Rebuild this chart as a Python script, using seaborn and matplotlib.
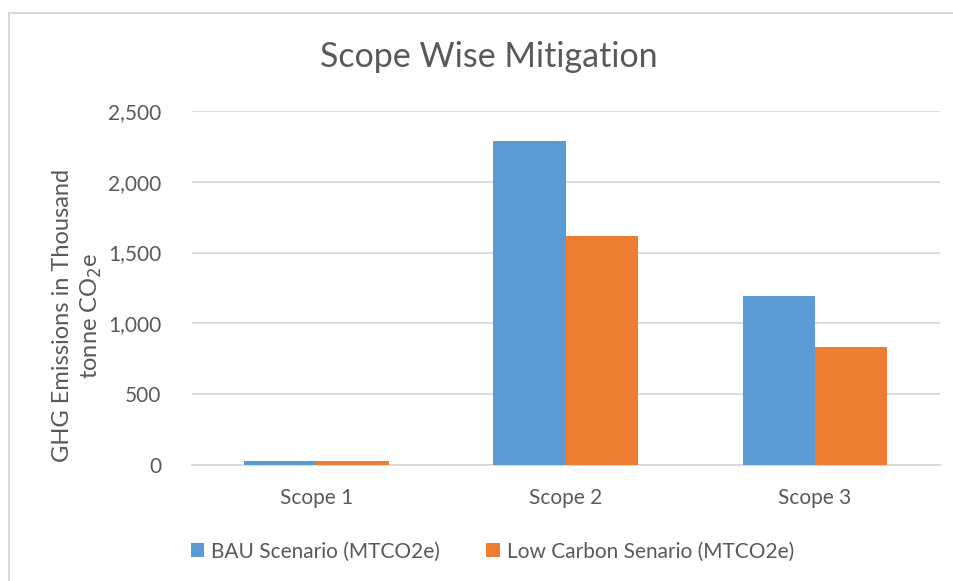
import matplotlib
matplotlib.use('Agg')
import matplotlib.pyplot as plt
import seaborn as sns
import pandas as pd
from matplotlib.patches import Rectangle

# dados do grafico
escopos = ['Scope 1', 'Scope 2', 'Scope 3']
bau = [24, 2290, 1190]
baixo_carbono = [24, 1619, 833]
series = ['BAU Scenario (MTCO2e)', 'Low Carbon Senario (MTCO2e)']
cores = ['#5B9BD5', '#ED7D31']
ticks_y = [0, 500, 1000, 1500, 2000, 2500]

df = pd.DataFrame({
    'Escopo': escopos * 2,
    'Valor': bau + baixo_carbono,
    'Serie': [series[0]] * 3 + [series[1]] * 3,
})

sns.set_theme(style='white')
plt.rcParams['font.family'] = ['Lato', 'DejaVu Sans']

fig = plt.figure(figsize=(9.54, 5.81), dpi=100)
ax = fig.add_axes([0.201, 0.2, 0.784, 0.609])

sns.barplot(data=df, x='Escopo', y='Valor', hue='Serie', palette=cores,
            width=0.58, saturation=1, linewidth=0, ax=ax, legend=True)

ax.set_ylim(0, 2500)
ax.set_xlim(-0.5, 2.5)
ax.set_yticks(ticks_y)
ax.set_yticklabels([f'{v:,}' for v in ticks_y])
ax.grid(axis='y', color='#D9D9D9', linewidth=1.3)
ax.set_axisbelow(True)
for lado in ['top', 'right', 'left']:
    ax.spines[lado].set_visible(False)
ax.spines['bottom'].set_color('#D9D9D9')
ax.spines['bottom'].set_linewidth(1.3)
ax.spines['bottom'].set_zorder(0.5)
ax.tick_params(axis='both', colors='#595959', labelsize=15, length=0)
ax.tick_params(axis='y', pad=22)
ax.tick_params(axis='x', pad=17)
ax.set_xlabel('')
ax.set_ylabel('GHG Emissions in Thousand\ntonne CO$_2$e', fontsize=17,
              color='#595959', va='center', linespacing=1.35)
ax.yaxis.set_label_coords(-0.152, 0.421)

fig.text(0.512, 0.902, 'Scope Wise Mitigation', ha='center', va='center',
         fontsize=24.5, color='#595959')

ax.legend(loc='center', bbox_to_anchor=(0.402, -0.245), ncol=2, frameon=False,
          fontsize=15, labelcolor='#595959', handlelength=0.65, handleheight=0.65,
          handletextpad=0.35, columnspacing=2.2)

# borda da area do grafico
fig.patches.append(Rectangle((9 / 954, -0.1), 1.2, 1 - 13 / 581 + 0.1,
                             transform=fig.transFigure, fill=False,
                             edgecolor='#D9D9D9', linewidth=1.5))

fig.savefig('out.png', dpi=100)
